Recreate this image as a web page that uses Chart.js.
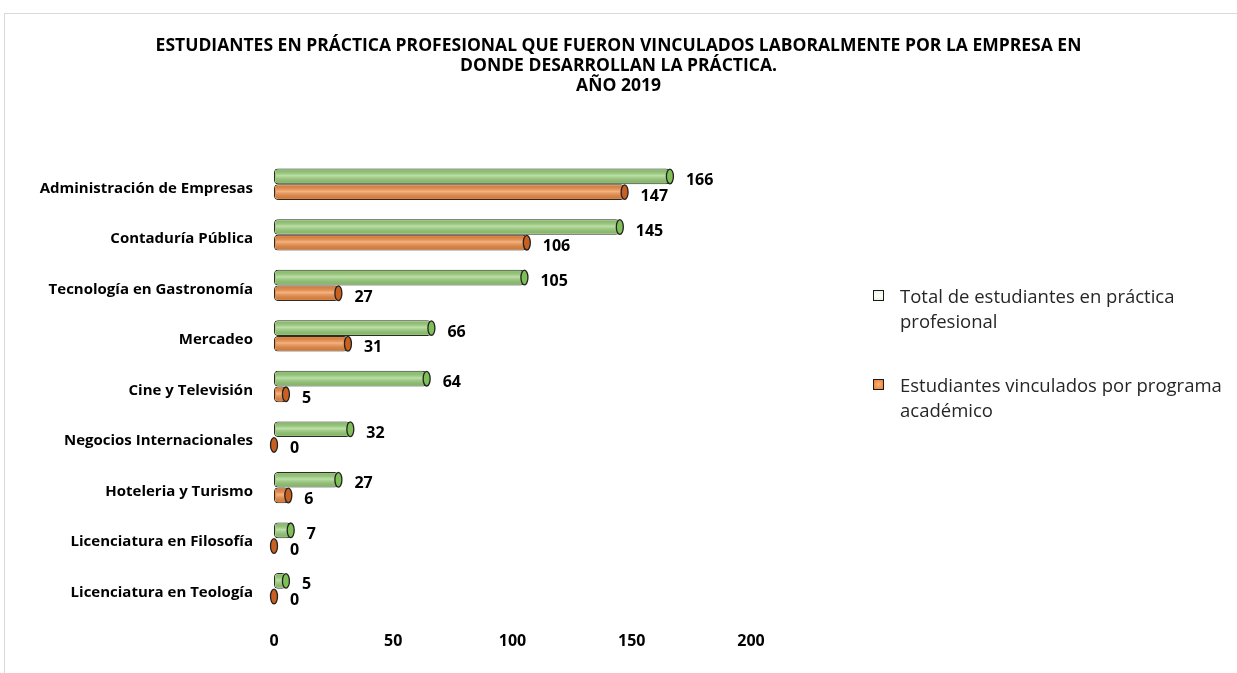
<!DOCTYPE html>
<html>
<head>
<meta charset="utf-8">
<script src="https://cdn.jsdelivr.net/npm/chart.js@4"></script>
<style>
  html, body { margin: 0; padding: 0; background: #fff; }
  #wrap { position: relative; width: 1237px; height: 673px; overflow: hidden; }
  #frame { position: absolute; left: 4px; top: 13px; width: 1300px; height: 700px; border: 1px solid #d9d9d9; }
  #canvasSingle { position: absolute; left: 0; top: 0; }
  #legend { position: absolute; left: 873px; top: 283px; font-family: "Open Sans", sans-serif; font-size: 18.5px; color: #262626; line-height: 25px; }
  .item { position: relative; padding-left: 27px; margin-bottom: 39px; white-space: nowrap; }
  .box { position: absolute; left: 0; top: 7px; width: 9px; height: 9px; border: 1.5px solid #1a1a1a; }
</style>
</head>
<body>
<div id="wrap">
  <div id="frame"></div>
  <canvas id="canvasSingle" width="1237" height="673"></canvas>
  <div id="legend"></div>
</div>
<script>
const categorias = [
    'Administración de Empresas',
    'Contaduría Pública',
    'Tecnología en Gastronomía',
    'Mercadeo',
    'Cine y Televisión',
    'Negocios Internacionales',
    'Hoteleria y Turismo',
    'Licenciatura en Filosofía',
    'Licenciatura en Teología'
];
const totalPractica = [166, 145, 105, 66, 64, 32, 27, 7, 5];
const vinculados = [147, 106, 27, 31, 5, 0, 6, 0, 0];
const ticksX = [0, 50, 100, 150, 200];
const titulo = [
    'ESTUDIANTES EN PRÁCTICA PROFESIONAL QUE FUERON VINCULADOS LABORALMENTE POR LA EMPRESA EN',
    'DONDE DESARROLLAN LA PRÁCTICA.',
    'AÑO 2019'
];
const nombresSeries = [
    ['Total de estudiantes en práctica', 'profesional'],
    ['Estudiantes vinculados por programa', 'académico']
];

const colores = ['#98d176', '#f28a3c'];
const coloresTapa = ['#7fbf58', '#c9601f'];
const coloresLegend = ['linear-gradient(#e8f5df, #ffffff, #e8f5df)', 'radial-gradient(#f9b27e, #ee7f2c)'];
const fuente = 'Open Sans';

// leyenda en html para poder partir las lineas
const legendDiv = document.getElementById('legend');
nombresSeries.forEach((lineas, i) => {
    legendDiv.innerHTML += `<div class="item"><span class="box" style="background:${coloresLegend[i]}"></span>${lineas.join('<br>')}</div>`;
});

// dibuja el brillo, la tapa del cilindro y el valor de cada barra
const tubos = {
    id: 'tubos',
    afterDatasetsDraw(chart) {
        const ctx = chart.ctx;
        ctx.save();
        chart.data.datasets.forEach((ds, i) => {
            const meta = chart.getDatasetMeta(i);
            meta.data.forEach((bar, j) => {
                const { x, y, base, height } = bar.getProps(['x', 'y', 'base', 'height'], true);
                const top = y - height / 2;
                if (x - base > 6) {
                    const g = ctx.createLinearGradient(0, top, 0, top + height);
                    g.addColorStop(0, 'rgba(0,0,0,0.08)');
                    g.addColorStop(0.45, 'rgba(255,255,255,0.35)');
                    g.addColorStop(1, 'rgba(0,0,0,0.12)');
                    ctx.fillStyle = g;
                    ctx.fillRect(base + 2, top + 1.5, x - base - 4, height - 3);
                }
                ctx.beginPath();
                ctx.ellipse(x, y, 3.5, height / 2 - 0.5, 0, 0, Math.PI * 2);
                ctx.fillStyle = coloresTapa[i];
                ctx.fill();
                ctx.lineWidth = 1.3;
                ctx.strokeStyle = '#222';
                ctx.stroke();

                ctx.fillStyle = '#000';
                ctx.font = 'bold 16px "' + fuente + '"';
                ctx.textAlign = 'left';
                ctx.textBaseline = 'middle';
                ctx.fillText(ds.data[j], x + 16, y + 4);
            });
        });
        ctx.restore();
    }
};

let config = {
    type: 'bar',
    data: {
        labels: categorias,
        datasets: [{
            label: nombresSeries[0].join(' '),
            data: totalPractica,
            backgroundColor: colores[0],
            borderColor: '#2b2b2b',
            borderWidth: 1,
            borderRadius: 4,
            borderSkipped: false
        }, {
            label: nombresSeries[1].join(' '),
            data: vinculados,
            backgroundColor: colores[1],
            borderColor: '#2b2b2b',
            borderWidth: 1,
            borderRadius: 4,
            borderSkipped: false
        }]
    },
    options: {
        indexAxis: 'y',
        responsive: false,
        animation: false,
        layout: { padding: 0 },
        datasets: {
            bar: { categoryPercentage: 0.62, barPercentage: 1 }
        },
        plugins: {
            legend: { display: false },
            tooltip: { enabled: false },
            title: {
                display: true,
                text: titulo,
                color: '#000',
                font: { family: fuente, size: 17.5, weight: 'bold', lineHeight: 1.143 },
                padding: { top: 36, bottom: 63 }
            }
        },
        scales: {
            x: {
                min: 0,
                max: 200,
                afterBuildTicks: s => { s.ticks = ticksX.map(v => ({ value: v })); },
                afterFit: s => { s.height = 59; },
                grid: { display: false, drawTicks: false },
                border: { display: false },
                ticks: {
                    padding: 18,
                    color: '#000',
                    font: { family: fuente, size: 16, weight: 'bold' }
                }
            },
            y: {
                afterFit: s => { s.width = 274; },
                grid: { display: false, drawTicks: false },
                border: { display: false },
                ticks: {
                    padding: 21,
                    labelOffset: 4,
                    color: '#000',
                    font: { family: fuente, size: 15, weight: 'bold' }
                }
            },
            // eje vacio para dejar espacio a la leyenda
            derecha: {
                type: 'category',
                position: 'right',
                labels: categorias,
                afterFit: s => { s.width = 486; },
                grid: { display: false, drawTicks: false },
                border: { display: false },
                ticks: { display: false }
            }
        }
    },
    plugins: [tubos]
};

var myChart = new Chart(document.getElementById('canvasSingle'), config);
</script>
</body>
</html>
